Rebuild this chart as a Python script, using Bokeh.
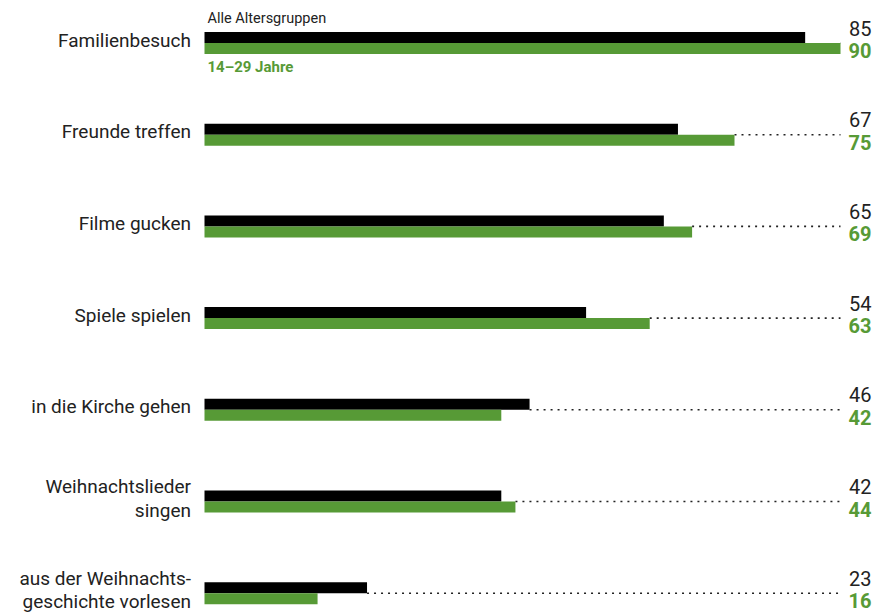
from bokeh.plotting import figure
from bokeh.models import Range1d, ColumnDataSource
from bokeh.core.properties import value
from bokeh.embed import file_html
from bokeh.resources import INLINE

categories = ["Familienbesuch", "Freunde treffen", "Filme gucken", "Spiele spielen",
              "in die Kirche gehen", "Weihnachtslieder\nsingen",
              "aus der Weihnachts-\ngeschichte vorlesen"]
alle = [85, 67, 65, 54, 46, 42, 23]
jung = [90, 75, 69, 63, 42, 44, 16]
label_alle = "Alle Altersgruppen"
label_jung = "14–29 Jahre"

GREEN = "#579a36"
W, H = 873, 613
X0_PX, XMAX_PX = 204, 840          # pixel of value 0 and of value 90
PX_PER_UNIT = (XMAX_PX - X0_PX) / 90.0
ROW0_PX, PITCH = 42.5, 91.7
BAR_PX = 11.0

xr = Range1d(-X0_PX / PX_PER_UNIT, (W - X0_PX) / PX_PER_UNIT)
yr = Range1d((H - ROW0_PX) / PITCH, -ROW0_PX / PITCH)

p = figure(width=W, height=H, x_range=xr, y_range=yr, output_backend="svg",
           toolbar_location=None, min_border=0)
p.axis.visible = False
p.grid.visible = False
p.outline_line_color = None
p.background_fill_color = "white"

n = len(categories)
rows = list(range(n))
bh = BAR_PX / PITCH
vmax = max(max(alle), max(jung))

src = ColumnDataSource(dict(
    row=rows, cat=categories, alle=alle, jung=jung,
    yb=[r - bh / 2 for r in rows], yg=[r + bh / 2 for r in rows],
    longest=[max(a, b) for a, b in zip(alle, jung)],
    end=[vmax] * n,
    sa=[str(v) for v in alle], sj=[str(v) for v in jung],
    ycat=[r - 3.0 / PITCH for r in rows],
    ya=[r - 15.0 / PITCH for r in rows], yj=[r + 7.5 / PITCH for r in rows],
))

# dotted leaders
p.segment(x0="longest", y0="row", x1="end", y1="row", source=src,
          line_color="#222222", line_width=1.6, line_dash="2 5")

p.hbar(y="yb", left=0, right="alle", height=bh, source=src,
       fill_color="black", line_color=None)
p.hbar(y="yg", left=0, right="jung", height=bh, source=src,
       fill_color=GREEN, line_color=None)

FONT = value("Roboto")
lab_x = (190.5 - X0_PX) / PX_PER_UNIT
p.text(x=lab_x, y="ycat", text="cat", source=src, text_align="right",
       text_baseline="middle", text_font=FONT, text_font_size="19px",
       text_color="#222222", text_line_height=1.02)

val_x = (871 - X0_PX) / PX_PER_UNIT
p.text(x=val_x, y="ya", text="sa", source=src, text_align="right",
       text_baseline="middle", text_font=FONT, text_font_size="20px",
       text_color="#222222")
p.text(x=val_x, y="yj", text="sj", source=src, text_align="right",
       text_baseline="middle", text_font=FONT, text_font_size="20px",
       text_color=GREEN, text_font_style="bold")

leg_x = 3 / PX_PER_UNIT
p.text(x=[leg_x], y=[-25.0 / PITCH], text=[label_alle], text_align="left",
       text_baseline="middle", text_font=FONT, text_font_size="14.5px",
       text_color="#222222")
p.text(x=[leg_x], y=[24.0 / PITCH], text=[label_jung], text_align="left",
       text_baseline="middle", text_font=FONT, text_font_size="15px",
       text_color=GREEN, text_font_style="bold")

open("out.html", "w").write(file_html(p, INLINE))
